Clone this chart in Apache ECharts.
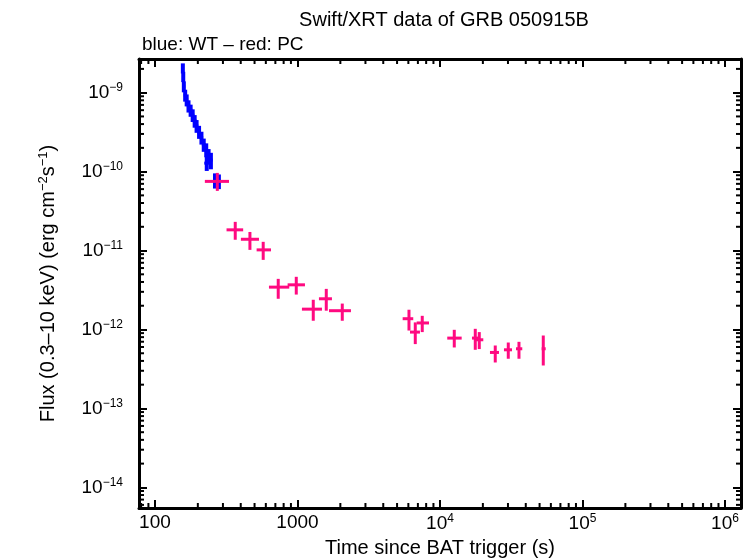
<!DOCTYPE html>
<html>
<head>
<meta charset="utf-8">
<script src="https://cdn.jsdelivr.net/npm/echarts@6/dist/echarts.min.js"></script>
<style>
html,body{margin:0;padding:0;background:#fff;}
#main{width:753px;height:558px;}
</style>
</head>
<body>
<div id="main"></div>
<script>
// WT mode (blue): time (s), time error, flux, flux error
var wtTime    = [157, 158, 159.5, 163, 167, 172, 178, 184, 190, 196, 204, 212, 220, 229, 238, 231, 247, 264, 281];
var wtTimeErr = [3, 3, 3.5, 4, 4, 4.5, 5, 5, 5.5, 5.5, 6, 6, 6.5, 6.5, 7, 9, 7, 8, 8];
var wtFlux    = [2.05e-9, 1.6e-9, 1.2e-9, 9.3e-10, 8.1e-10, 6.8e-10, 6.0e-10, 5.2e-10, 4.4e-10, 3.8e-10,
                 3.2e-10, 2.7e-10, 2.2e-10, 1.9e-10, 1.6e-10, 1.28e-10, 1.4e-10, 7.8e-11, 7.6e-11];
var wtFluxErr = [3.0e-10, 2.4e-10, 1.9e-10, 1.6e-10, 1.4e-10, 1.2e-10, 1.05e-10, 9.5e-11, 8e-11, 7e-11,
                 6e-11, 5e-11, 4.2e-11, 3.8e-11, 3.3e-11, 2.6e-11, 3.3e-11, 1.7e-11, 1.6e-11];

// PC mode (red): time with lower/upper bounds, flux with lower/upper bounds
var pcTime   = [274, 366, 464, 575, 733, 981, 1291, 1593, 2063, 6061, 6710, 7511, 12600, 17690, 18870, 24430, 30150, 35840, 53070];
var pcTimeLo = [224, 318, 401, 517, 631, 853, 1075, 1415, 1664, 5473, 6160, 6864, 11250, 16770, 17890, 22430, 28120, 34150, 51720];
var pcTimeHi = [331, 416, 537, 652, 876, 1129, 1486, 1746, 2374, 6494, 7236, 8373, 14200, 19090, 20140, 25940, 32010, 37800, 55170];
var pcFlux   = [7.52e-11, 1.83e-11, 1.39e-11, 1.02e-11, 3.44e-12, 3.68e-12, 1.81e-12, 2.45e-12, 1.73e-12,
                1.37e-12, 9.27e-13, 1.21e-12, 7.78e-13, 7.78e-13, 7.41e-13, 5.12e-13, 5.53e-13, 5.70e-13, 5.70e-13];
var pcFluxLo = [5.70e-11, 1.37e-11, 1.02e-11, 7.62e-12, 2.45e-12, 2.77e-12, 1.29e-12, 1.73e-12, 1.29e-12,
                9.7e-13, 6.53e-13, 9.27e-13, 5.92e-13, 5.53e-13, 5.65e-13, 3.82e-13, 4.26e-13, 4.26e-13, 3.50e-13];
var pcFluxHi = [9.63e-11, 2.31e-11, 1.72e-11, 1.29e-11, 4.38e-12, 4.65e-12, 2.38e-12, 3.27e-12, 2.13e-12,
                1.78e-12, 1.23e-12, 1.49e-12, 9.91e-13, 1.02e-12, 9.27e-13, 6.27e-13, 6.84e-13, 6.98e-13, 8.39e-13];

var xMin = 77.3, xMax = 1.295e6;
var yMin = 5.48e-15, yMax = 2.67e-9;

var myChart = echarts.init(document.getElementById('main'));

var wtData = wtTime.map(function(t, i){
	return [t, wtFlux[i], t - wtTimeErr[i], t + wtTimeErr[i], wtFlux[i] - wtFluxErr[i], wtFlux[i] + wtFluxErr[i]];
});
var pcData = pcTime.map(function(t, i){
	return [t, pcFlux[i], pcTimeLo[i], pcTimeHi[i], pcFluxLo[i], pcFluxHi[i]];
});

// minor tick values 2..9 x 10^n inside the axis range
function minorTicks(lo, hi){
	var out = [];
	for (var e = Math.floor(Math.log10(lo)); e <= Math.ceil(Math.log10(hi)); e++) {
		for (var k = 2; k <= 9; k++) {
			var v = k * Math.pow(10, e);
			if (v > lo && v < hi) out.push(v);
		}
	}
	return out;
}
var xMinor = minorTicks(xMin, xMax);
var yMinor = minorTicks(yMin, yMax);

function crossItem(color, w){
	return function(params, api){
		var t = api.value(0), f = api.value(1);
		var a = api.coord([api.value(2), f]), b = api.coord([api.value(3), f]);
		var c = api.coord([t, api.value(4)]), d = api.coord([t, api.value(5)]);
		return {type: 'group', children: [
			{type: 'line', shape: {x1: a[0], y1: a[1], x2: b[0], y2: b[1]}, style: {stroke: color, lineWidth: 3}},
			{type: 'line', shape: {x1: c[0], y1: c[1], x2: d[0], y2: d[1]}, style: {stroke: color, lineWidth: w}}
		]};
	};
}

function minorItem(params, api){
	var cs = params.coordSys;
	var kids = [];
	var st = {stroke: '#000', lineWidth: 2};
	xMinor.forEach(function(v){
		var x = api.coord([v, yMax])[0];
		kids.push({type: 'line', shape: {x1: x, y1: cs.y + cs.height, x2: x, y2: cs.y + cs.height - 5}, style: st});
		kids.push({type: 'line', shape: {x1: x, y1: cs.y, x2: x, y2: cs.y + 5}, style: st});
	});
	yMinor.forEach(function(v){
		var y = api.coord([xMax, v])[1];
		kids.push({type: 'line', shape: {x1: cs.x, y1: y, x2: cs.x + 5, y2: y}, style: st});
		kids.push({type: 'line', shape: {x1: cs.x + cs.width, y1: y, x2: cs.x + cs.width - 5, y2: y}, style: st});
	});
	return {type: 'group', children: kids};
}

function isDecade(v){
	var e = Math.log10(v);
	return Math.abs(e - Math.round(e)) < 1e-6;
}

var fontFam = 'Liberation Sans';
var rich = {
	b: {fontSize: 19, fontFamily: fontFam, color: '#000'},
	sup: {fontSize: 12, fontFamily: fontFam, color: '#000', padding: [0, 0, 9, 0]}
};

var axisCommon = {
	type: 'log',
	logBase: 10,
	splitLine: {show: false},
	axisLine: {show: true, onZero: false, lineStyle: {color: '#000', width: 3}},
	axisTick: {show: true, inside: true, length: 8, lineStyle: {color: '#000', width: 2}}
};

myChart.setOption({
	backgroundColor: '#fff',
	animation: false,
	title: [
		{text: 'Swift/XRT data of GRB 050915B', left: 439, top: 5, textAlign: 'center',
			textStyle: {fontSize: 20, fontWeight: 'normal', fontFamily: fontFam, color: '#000'}},
		{text: 'blue: WT \u2013 red: PC', left: 137, top: 30,
			textStyle: {fontSize: 19, fontWeight: 'normal', fontFamily: fontFam, color: '#000'}}
	],
	grid: {left: 139, right: 12, top: 59, bottom: 50, outerBoundsMode: 'none'},
	xAxis: [
		Object.assign({}, axisCommon, {
			position: 'bottom', min: xMin, max: xMax,
			name: 'Time since BAT trigger (s)', nameLocation: 'middle', nameGap: 30,
			nameTextStyle: {fontSize: 20, fontFamily: fontFam, color: '#000'},
			axisLabel: {
				margin: 5, showMinLabel: false, showMaxLabel: false,
				formatter: function(v){
					if (!isDecade(v)) return '';
					var e = Math.round(Math.log10(v));
					if (e <= 3) return '{b|' + Math.pow(10, e) + '}';
					return '{b|10}{sup|' + e + '}';
				},
				rich: rich
			}
		}),
		Object.assign({}, axisCommon, {position: 'top', min: xMin, max: xMax, axisLabel: {show: false}})
	],
	yAxis: [
		Object.assign({}, axisCommon, {
			position: 'left', min: yMin, max: yMax,
			name: 'Flux (0.3\u201310 keV) (erg cm{sup|\u22122}s{sup|\u22121})', nameLocation: 'middle', nameGap: 80,
			nameTextStyle: {fontSize: 20, fontFamily: fontFam, color: '#000', rich: {sup: {fontSize: 13, fontFamily: fontFam, color: '#000', padding: [0, 0, 9, 0]}}},
			axisLabel: {
				margin: 16, showMinLabel: false, showMaxLabel: false,
				formatter: function(v){
					if (!isDecade(v)) return '';
					var e = Math.round(Math.log10(v));
					return '{b|10}{sup|\u2212' + (-e) + '}';
				},
				rich: rich
			}
		}),
		Object.assign({}, axisCommon, {position: 'right', min: yMin, max: yMax, axisLabel: {show: false}})
	],
	series: [
		{type: 'custom', name: 'ticks', renderItem: minorItem, data: [[xMax, yMax]], silent: true, clip: false},
		{type: 'custom', name: 'WT', renderItem: crossItem('#0000ff', 4), data: wtData, encode: {x: 0, y: 1}, clip: true},
		{type: 'custom', name: 'PC', renderItem: crossItem('#ff0a80', 3), data: pcData, encode: {x: 0, y: 1}, clip: true}
	]
});
</script>
</body>
</html>
